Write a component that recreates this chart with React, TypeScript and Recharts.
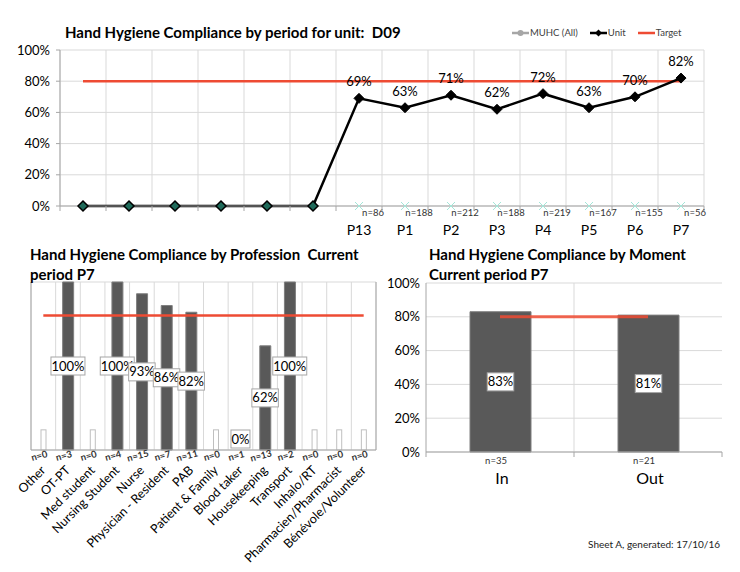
import React from 'react';
import {
  ComposedChart,
  Line,
  Bar,
  XAxis,
  YAxis,
  CartesianGrid,
  LabelList,
} from 'recharts';

const FONT = 'Lato, "Open Sans", sans-serif';

// period trend (first six periods have no data)
const periodKeys = ['e1', 'e2', 'e3', 'e4', 'e5', 'e6', 'P13', 'P1', 'P2', 'P3', 'P4', 'P5', 'P6', 'P7'];
const periodNames = ['', '', '', '', '', '', 'P13', 'P1', 'P2', 'P3', 'P4', 'P5', 'P6', 'P7'];
const unitCompliance = [0, 0, 0, 0, 0, 0, 69, 63, 71, 62, 72, 63, 70, 82];
const periodN = [null, null, null, null, null, null, 86, 188, 212, 188, 219, 167, 155, 56];
const TARGET = 80;

// profession, current period
const professions = [
  'Other', 'OT-PT', 'Med student', 'Nursing  Student', 'Nurse', 'Physician - Resident', 'PAB',
  'Patient & Family', 'Blood taker', 'Housekeeping', 'Transport', 'Inhalo/RT',
  'Pharmacien/Pharmacist', 'Bénévole/Volunteer',
];
const professionCompliance = [null, 100, null, 100, 93, 86, 82, null, 0, 62, 100, null, null, null];
const professionN = [0, 3, 0, 4, 15, 7, 11, 0, 1, 13, 2, 0, 0, 0];
const NO_DATA_MARK = 12;

// moment, current period
const moments = ['In', 'Out'];
const momentCompliance = [83, 81];
const momentN = [35, 21];

const periodData = periodKeys.map((key, i) => ({
  key,
  unit: unitCompliance[i],
  mark: periodN[i] == null ? null : 0,
  target: TARGET,
}));

const professionData = professions.map((name, i) => ({
  name,
  value: professionCompliance[i] ?? 0,
  mid: (professionCompliance[i] ?? 0) / 2,
  empty: professionN[i] === 0 ? NO_DATA_MARK : 0,
  target: TARGET,
}));

const momentData = moments.map((name, i) => ({
  name,
  value: momentCompliance[i],
  target: TARGET,
}));

const pct = (v: number) => `${v}%`;
const GRID = '#d9d9d9';
const AXIS = '#a6a6a6';
const BAR = '#595959';
const RED = '#ee4b33';

const bandEdges = (count: number, skip: number[] = []) => ({ offset }: any) =>
  Array.from({ length: count + 1 }, (_, i) => offset.left + (offset.width * i) / count).filter(
    (_, i) => !skip.includes(i)
  );

function Diamond(props: any) {
  const { cx, cy, index } = props;
  if (cx == null || cy == null) return null;
  const r = 5;
  const empty = periodN[index] == null;
  return (
    <path
      d={`M${cx},${cy - r}L${cx + r},${cy}L${cx},${cy + r}L${cx - r},${cy}Z`}
      fill={empty ? '#1f6a5a' : '#000'}
      stroke="#000"
      strokeWidth={empty ? 1.5 : 1}
    />
  );
}

function Cross(props: any) {
  const { cx, cy } = props;
  if (cx == null || cy == null) return null;
  const r = 4;
  return (
    <g stroke="#a3e6d8" strokeWidth={1}>
      <line x1={cx - r} y1={cy - r} x2={cx + r} y2={cy + r} />
      <line x1={cx - r} y1={cy + r} x2={cx + r} y2={cy - r} />
    </g>
  );
}

function PeriodTick(props: any) {
  const { x, y, index } = props;
  const step = 46;
  const n = periodN[index];
  return (
    <g fontFamily={FONT}>
      <line x1={x - step / 2} y1={y} x2={x - step / 2} y2={y + 5} stroke={AXIS} />
      {index === periodKeys.length - 1 && (
        <line x1={x + step / 2} y1={y} x2={x + step / 2} y2={y + 5} stroke={AXIS} />
      )}
      {n != null && (
        <text x={x + 14} y={y + 10} textAnchor="middle" fontSize={9.5} fill="#333">
          n={n}
        </text>
      )}
      <text x={x} y={y + 29} textAnchor="middle" fontSize={14} fill="#000">
        {periodNames[index]}
      </text>
    </g>
  );
}

function PeriodLabel(props: any) {
  const { x, y, value, index } = props;
  if (periodN[index] == null) return null;
  return (
    <text x={x} y={y - 12} textAnchor="middle" fontSize={13} fontFamily={FONT} fill="#000">
      {pct(value)}
    </text>
  );
}

function ProfessionTick(props: any) {
  const { x, y, index } = props;
  const ax = x + 3;
  const ay = y + 21;
  return (
    <g fontFamily={FONT}>
      <text
        x={x - 4}
        y={y + 9}
        textAnchor="middle"
        fontSize={9.5}
        fontWeight="bold"
        fill="#333"
        transform={`rotate(-15 ${x - 4} ${y + 6})`}
      >
        n={professionN[index]}
      </text>
      <text
        x={ax}
        y={ay}
        textAnchor="end"
        fontSize={12.5}
        fill="#000"
        transform={`rotate(-45 ${ax} ${ay})`}
      >
        {professions[index]}
      </text>
    </g>
  );
}

function Box({ cx, cy, text }: { cx: number; cy: number; text: string }) {
  const w = text.length * 7.5 + 4;
  return (
    <g fontFamily={FONT}>
      <rect x={cx - w / 2} y={cy - 9} width={w} height={18} fill="#fff" stroke="#a6a6a6" />
      <text x={cx} y={cy + 4.5} textAnchor="middle" fontSize={13} fill="#000">
        {text}
      </text>
    </g>
  );
}

// label sits at half the bar height; a zero bar keeps its box just above the axis
function ProfessionLabel(props: any) {
  const { x, y, index } = props;
  if (professionN[index] === 0) return null;
  const v = professionCompliance[index] ?? 0;
  return <Box cx={x} cy={v === 0 ? y - 11 : y} text={pct(v)} />;
}

function MomentLabel(props: any) {
  const { x, y, width, height, value } = props;
  return <Box cx={x + width / 2} cy={y + height / 2} text={pct(value)} />;
}

function HollowBar(props: any) {
  const { x, y, width, height } = props;
  if (!height || height <= 0) return null;
  const w = 5;
  return (
    <rect x={x + width / 2 - w / 2} y={y} width={w} height={height} fill="#fff" stroke="#bfbfbf" />
  );
}

function MomentTick(props: any) {
  const { x, y, index } = props;
  const step = 148;
  return (
    <g fontFamily={FONT}>
      <line x1={x - step / 2} y1={y} x2={x - step / 2} y2={y + 5} stroke={AXIS} />
      {index === 1 && <line x1={x + step / 2} y1={y} x2={x + step / 2} y2={y + 5} stroke={AXIS} />}
      <text x={x - 4} y={y + 12} textAnchor="middle" fontSize={9.5} fill="#333">
        n={momentN[index]}
      </text>
      <text x={x + 2} y={y + 32} textAnchor="middle" fontSize={16} fill="#000">
        {moments[index]}
      </text>
    </g>
  );
}

function LegendItem({ color, marker, label }: { color: string; marker: string; label: string }) {
  return (
    <span style={{ display: 'inline-flex', alignItems: 'center', marginRight: 12 }}>
      <svg width={17} height={8}>
        <line x1={0} y1={4} x2={17} y2={4} stroke={color} strokeWidth={2.5} />
        {marker === 'circle' && <circle cx={8.5} cy={4} r={3} fill={color} />}
        {marker === 'diamond' && <path d="M8.5,0.5L12,4L8.5,7.5L5,4Z" fill={color} />}
      </svg>
      <span style={{ fontSize: 9.5, color: '#404040', marginLeft: 1 }}>{label}</span>
    </span>
  );
}

const titleStyle: React.CSSProperties = {
  position: 'absolute',
  fontWeight: 'bold',
  fontSize: 15,
  lineHeight: '20px',
  color: '#000',
  whiteSpace: 'nowrap',
};

export default function App() {
  return (
    <div
      style={{
        position: 'absolute',
        left: 0,
        top: 0,
        width: 740,
        height: 572,
        background: '#fff',
        fontFamily: FONT,
        overflow: 'hidden',
      }}
    >
      <div style={{ position: 'absolute', left: 0, top: 0 }}>
        <ComposedChart width={740} height={245} data={periodData} margin={{ top: 50, right: 36, bottom: 0, left: 0 }}>
          <CartesianGrid stroke={GRID} verticalCoordinatesGenerator={bandEdges(periodKeys.length)} />
          <XAxis
            dataKey="key"
            scale="band"
            height={39}
            interval={0}
            axisLine={{ stroke: AXIS }}
            tickLine={false}
            tickSize={0}
            tickMargin={0}
            tick={(p: any) => <PeriodTick {...p} />}
          />
          <YAxis
            domain={[0, 100]}
            ticks={[0, 20, 40, 60, 80, 100]}
            width={60}
            tickFormatter={pct}
            axisLine={{ stroke: AXIS }}
            tickLine={{ stroke: AXIS }}
            tickSize={4}
            tickMargin={6}
            tick={{ fill: '#000', fontSize: 13, fontFamily: FONT }}
          />
          <Line dataKey="target" stroke={RED} strokeWidth={2.5} dot={false} isAnimationActive={false} />
          <Line
            dataKey="mark"
            stroke="none"
            dot={(p: any) => <Cross key={p.index} {...p} />}
            isAnimationActive={false}
          />
          <Line
            dataKey="unit"
            stroke="#000"
            strokeWidth={2.5}
            dot={(p: any) => <Diamond key={p.index} {...p} />}
            isAnimationActive={false}
          >
            <LabelList dataKey="unit" content={(p: any) => <PeriodLabel {...p} />} />
          </Line>
        </ComposedChart>
      </div>

      <div style={{ position: 'absolute', left: 0, top: 270 }}>
        <ComposedChart width={400} height={300} data={professionData} margin={{ top: 12, right: 0, bottom: 0, left: 0 }}>
          <CartesianGrid yAxisId="l" stroke={GRID} verticalCoordinatesGenerator={bandEdges(professions.length)} />
          <XAxis
            dataKey="name"
            height={120}
            interval={0}
            axisLine={{ stroke: AXIS }}
            tickLine={false}
            tickSize={0}
            tickMargin={0}
            tick={(p: any) => <ProfessionTick {...p} />}
          />
          <YAxis yAxisId="l" domain={[0, 100]} ticks={[0, 20, 40, 60, 80, 100]} width={31} tick={false} axisLine={{ stroke: AXIS }} tickLine={false} />
          <YAxis
            yAxisId="r"
            orientation="right"
            domain={[0, 100]}
            ticks={[0, 20, 40, 60, 80, 100]}
            width={24}
            tick={false}
            tickSize={4}
            axisLine={{ stroke: AXIS }}
            tickLine={{ stroke: AXIS }}
          />
          <Bar yAxisId="l" dataKey="value" stackId="s" fill={BAR} stroke="#7f7f7f" barSize={11} isAnimationActive={false} />
          <Bar
            yAxisId="l"
            dataKey="empty"
            stackId="s"
            barSize={11}
            shape={(p: any) => <HollowBar {...p} />}
            isAnimationActive={false}
          />
          <Line yAxisId="l" dataKey="target" stroke={RED} strokeWidth={2.5} dot={false} isAnimationActive={false} />
          <Line yAxisId="l" dataKey="mid" stroke="none" dot={false} isAnimationActive={false}>
            <LabelList dataKey="mid" content={(p: any) => <ProfessionLabel {...p} />} />
          </Line>
        </ComposedChart>
      </div>

      <div style={{ position: 'absolute', left: 380, top: 270 }}>
        <ComposedChart width={360} height={230} data={momentData} margin={{ top: 13, right: 18, bottom: 0, left: 0 }}>
          <CartesianGrid stroke={GRID} verticalCoordinatesGenerator={bandEdges(moments.length, [0, 2])} />
          <XAxis
            dataKey="name"
            height={48}
            interval={0}
            axisLine={{ stroke: AXIS }}
            tickLine={false}
            tickSize={0}
            tickMargin={0}
            tick={(p: any) => <MomentTick {...p} />}
          />
          <YAxis
            domain={[0, 100]}
            ticks={[0, 20, 40, 60, 80, 100]}
            width={46}
            tickFormatter={pct}
            axisLine={{ stroke: AXIS }}
            tickLine={false}
            tickSize={0}
            tickMargin={6}
            tick={{ fill: '#000', fontSize: 13, fontFamily: FONT }}
          />
          <Bar dataKey="value" fill={BAR} stroke="#7f7f7f" barSize={61} isAnimationActive={false}>
            <LabelList dataKey="value" content={(p: any) => <MomentLabel {...p} />} />
          </Bar>
          <Line dataKey="target" stroke={RED} strokeOpacity={0.85} strokeWidth={3} dot={false} isAnimationActive={false} />
        </ComposedChart>
      </div>

      <div style={{ ...titleStyle, left: 65, top: 22 }}>Hand Hygiene Compliance by period for unit:&nbsp;&nbsp;D09</div>
      <div style={{ ...titleStyle, left: 30, top: 244 }}>
        Hand Hygiene Compliance by Profession&nbsp;&nbsp;Current
        <br />
        period P7
      </div>
      <div style={{ ...titleStyle, left: 429, top: 244 }}>
        Hand Hygiene Compliance by Moment
        <br />
        Current period P7
      </div>

      <div style={{ position: 'absolute', left: 512, top: 27, display: 'flex', whiteSpace: 'nowrap' }}>
        <LegendItem color="#a6a6a6" marker="circle" label="MUHC (All)" />
        <LegendItem color="#000" marker="diamond" label="Unit" />
        <LegendItem color={RED} marker="none" label="Target" />
      </div>

      <div style={{ position: 'absolute', right: 20, top: 538, fontSize: 10, color: '#222' }}>
        Sheet A, generated: 17/10/16
      </div>
    </div>
  );
}
